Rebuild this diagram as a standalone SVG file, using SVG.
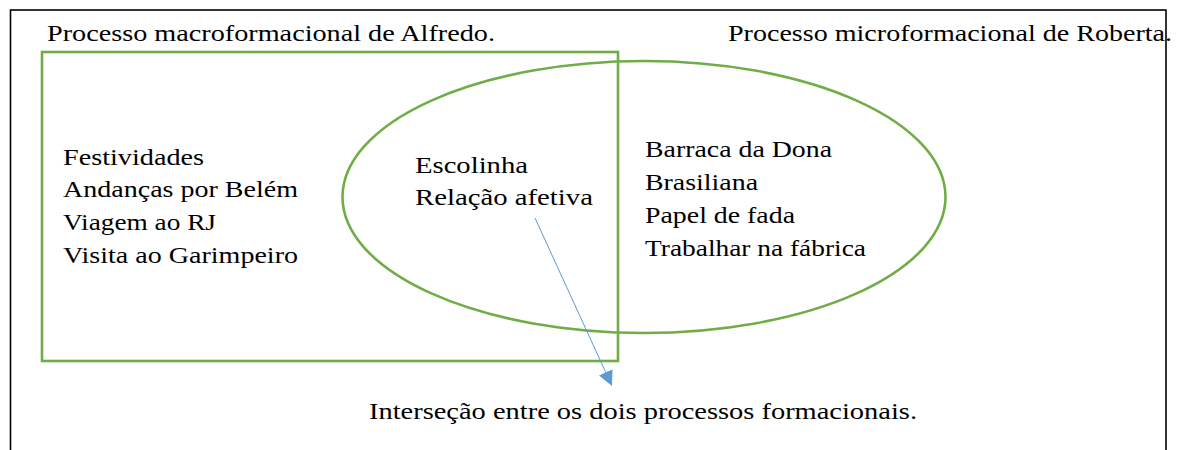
<svg xmlns="http://www.w3.org/2000/svg" width="1186" height="450" viewBox="0 0 1186 450">
  <style>
    text { font-family: 'Liberation Serif', 'Times New Roman', serif; font-size: 23px; fill: #000; }
    .grn { fill: none; stroke: #70AD47; stroke-width: 2.6; }
  </style>
  <defs>
    <marker id="arr" viewBox="0 0 14 14" refX="13" refY="7" markerWidth="15" markerHeight="15" markerUnits="userSpaceOnUse" orient="auto">
      <path d="M0,0 L14,7 L0,14 Z" fill="#5B9BD5"/>
    </marker>
  </defs>
  <rect width="1186" height="450" fill="#fff"/>
  <g id="frame">
    <rect x="10.5" y="10" width="1155.5" height="460" fill="none" stroke="#000" stroke-width="1.6"/>
  </g>
  <g id="titles">
    <text x="47" y="41" textLength="448" lengthAdjust="spacingAndGlyphs">Processo macroformacional de Alfredo.</text>
    <text x="728" y="41" textLength="444" lengthAdjust="spacingAndGlyphs">Processo microformacional de Roberta.</text>
  </g>
  <g id="alfredo">
    <rect class="grn" x="42" y="52" width="576" height="309"/>
    <text x="63" y="165" textLength="141" lengthAdjust="spacingAndGlyphs">Festividades</text>
    <text x="63" y="197" textLength="235" lengthAdjust="spacingAndGlyphs">Andanças por Belém</text>
    <text x="63" y="230" textLength="153" lengthAdjust="spacingAndGlyphs">Viagem ao RJ</text>
    <text x="63" y="263" textLength="235" lengthAdjust="spacingAndGlyphs">Visita ao Garimpeiro</text>
  </g>
  <g id="roberta">
    <ellipse class="grn" cx="644" cy="197" rx="301.5" ry="136"/>
    <text x="645" y="157" textLength="187" lengthAdjust="spacingAndGlyphs">Barraca da Dona</text>
    <text x="645" y="190" textLength="113" lengthAdjust="spacingAndGlyphs">Brasiliana</text>
    <text x="645" y="223" textLength="150" lengthAdjust="spacingAndGlyphs">Papel de fada</text>
    <text x="645" y="256" textLength="221" lengthAdjust="spacingAndGlyphs">Trabalhar na fábrica</text>
  </g>
  <g id="intersection">
    <text x="415" y="173" textLength="113" lengthAdjust="spacingAndGlyphs">Escolinha</text>
    <text x="415" y="205" textLength="178" lengthAdjust="spacingAndGlyphs">Relação afetiva</text>
  </g>
  <g id="connectors">
    <line x1="535" y1="218" x2="611.5" y2="385" stroke="#5B9BD5" stroke-width="1" marker-end="url(#arr)"/>
  </g>
  <g id="caption">
    <text x="369" y="419" textLength="548" lengthAdjust="spacingAndGlyphs">Interseção entre os dois processos formacionais.</text>
  </g>
</svg>
